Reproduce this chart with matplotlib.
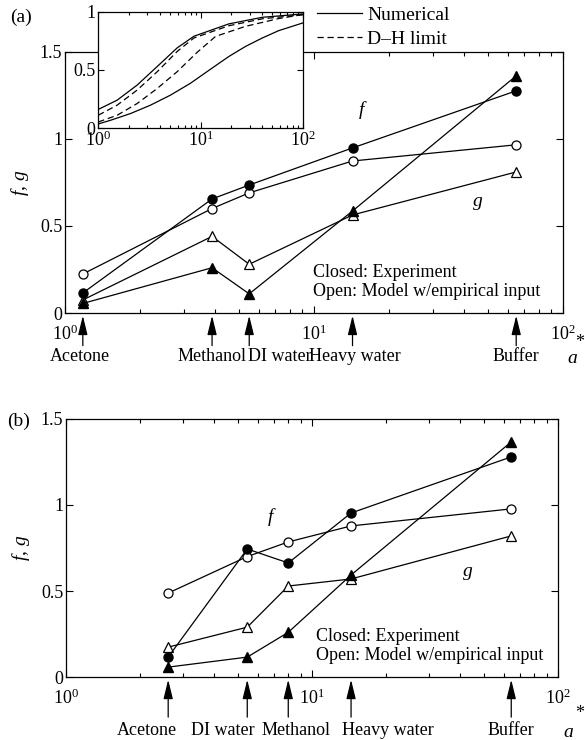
import numpy as np
import matplotlib
matplotlib.use("Agg")
import matplotlib.pyplot as plt
from matplotlib.lines import Line2D
from matplotlib.transforms import offset_copy
from matplotlib.ticker import LogLocator, NullFormatter, FixedLocator

plt.rcParams['font.family'] = ['Liberation Serif', 'DejaVu Serif']
plt.rcParams['mathtext.fontset'] = 'custom'
plt.rcParams['mathtext.rm'] = 'Liberation Serif'
plt.rcParams['mathtext.it'] = 'Liberation Serif:italic'
plt.rcParams['font.size'] = 13

# --- panel (a) data ---
names_a = ['Acetone', 'Methanol', 'DI water', 'Heavy water', 'Buffer']
astar_a = [1.18, 3.9, 5.5, 14.3, 65.0]
f_exp_a = [0.115, 0.655, 0.735, 0.948, 1.276]
f_mod_a = [0.224, 0.600, 0.690, 0.873, 0.966]
g_exp_a = [0.055, 0.260, 0.110, 0.586, 1.362]
g_mod_a = [0.075, 0.440, 0.280, 0.563, 0.810]

# --- panel (b) data ---
names_b = ['Acetone', 'DI water', 'Methanol', 'Heavy water', 'Buffer']
astar_b = [2.6, 5.45, 8.0, 14.4, 64.5]
f_exp_b = [0.116, 0.744, 0.663, 0.953, 1.279]
f_mod_b = [0.488, 0.700, 0.785, 0.878, 0.977]
g_exp_b = [0.058, 0.116, 0.260, 0.593, 1.366]
g_mod_b = [0.174, 0.290, 0.529, 0.570, 0.820]

# --- inset curves ---
num_hi_x = [1.0, 1.53, 2.4, 3.77, 5.9, 8.6, 18.8, 40.0, 100.0]
num_hi_y = [0.160, 0.240, 0.370, 0.530, 0.690, 0.790, 0.896, 0.953, 0.982]
dh_hi_x = [1.0, 1.53, 2.4, 3.77, 5.9, 8.6, 18.8, 40.0, 100.0]
dh_hi_y = [0.110, 0.197, 0.327, 0.485, 0.659, 0.775, 0.880, 0.940, 0.975]
dh_lo_x = [1.0, 1.53, 2.4, 3.77, 5.9, 9.2, 14.0, 27.4, 57.8, 100.0]
dh_lo_y = [0.052, 0.110, 0.211, 0.341, 0.485, 0.650, 0.789, 0.875, 0.942, 0.977]
num_lo_x = [1.0, 1.32, 2.07, 3.24, 5.07, 7.94, 12.9, 18.8, 27.4, 40.0, 57.8, 100.0]
num_lo_y = [0.035, 0.067, 0.125, 0.197, 0.283, 0.385, 0.515, 0.615, 0.702, 0.775, 0.838, 0.905]

# horizontal nudges (pixels) of the solvent names relative to their arrows
label_dx_a = [-3, 0, 31, 2, 0]
label_dx_b = [-21, -24, 8, 37, 0]


def style_axes(ax, yticks):
    ax.set_xscale('log')
    ax.set_xlim(1, 100)
    ax.xaxis.set_major_locator(FixedLocator([1, 10, 100]))
    ax.xaxis.set_minor_locator(LogLocator(base=10, subs=np.arange(2, 10)))
    ax.xaxis.set_minor_formatter(NullFormatter())
    ax.set_xticklabels([r'$10^{0}$', r'$10^{1}$', r'$10^{2}$'])
    ax.set_yticks(yticks)
    ax.tick_params(which='both', direction='in', top=True, right=True,
                   width=0.8, labelsize=13)
    ax.tick_params(which='major', length=5)
    ax.tick_params(which='minor', length=3)
    for sp in ax.spines.values():
        sp.set_linewidth(0.9)


def draw_panel(ax, names, astar, f_exp, f_mod, g_exp, g_mod, label_dx,
               arrow_tail, label_y):
    lw = 0.9
    ms = 6.5
    ax.plot(astar, f_mod, '-o', color='k', lw=lw, ms=ms, mfc='white', mec='k', mew=0.9)
    ax.plot(astar, g_mod, '-^', color='k', lw=lw, ms=ms, mfc='white', mec='k', mew=0.9)
    ax.plot(astar, f_exp, '-o', color='k', lw=lw, ms=ms, mfc='k', mec='k')
    ax.plot(astar, g_exp, '-^', color='k', lw=lw, ms=ms, mfc='k', mec='k')
    ax.set_ylim(0, 1.5)
    style_axes(ax, [0, 0.5, 1, 1.5])
    ax.set_yticklabels(['0', '0.5', '1', '1.5'])
    ax.tick_params(axis='x', which='major', pad=8)
    ax.tick_params(axis='y', pad=2)
    ax.set_ylabel(r'$f$, $g$', fontsize=14, labelpad=6)
    trans = ax.get_xaxis_transform()
    for name, xv, dx in zip(names, astar, label_dx):
        ax.annotate('', xy=(xv, -0.01), xycoords=trans,
                    xytext=(xv, arrow_tail), textcoords=trans,
                    arrowprops=dict(arrowstyle='-|>,head_length=0.9,head_width=0.22',
                                    color='k', lw=0.9, shrinkA=0, shrinkB=0),
                    annotation_clip=False)
        t = offset_copy(trans, fig=ax.figure, x=dx, y=0, units='dots')
        ax.text(xv, label_y, name, transform=t, ha='center', va='center',
                fontsize=13, clip_on=False)


fig = plt.figure(figsize=(5.85, 7.4), dpi=100)

# panel (a)
ax_a = fig.add_axes([0.111, 0.577, 0.851, 0.353])
draw_panel(ax_a, names_a, astar_a, f_exp_a, f_mod_a, g_exp_a, g_mod_a, label_dx_a,
           -0.125, -0.165)
ax_a.text(0.498, 0.119, 'Closed: Experiment\nOpen: Model w/empirical input',
          transform=ax_a.transAxes, fontsize=13, ha='left', va='center',
          linespacing=1.15)
ax_a.text(0.598, 0.778, r'$f$', transform=ax_a.transAxes, fontsize=14,
          ha='center', va='center')
ax_a.text(0.829, 0.421, r'$g$', transform=ax_a.transAxes, fontsize=14,
          ha='center', va='center')
fig.text(0.017, 0.976, '(a)', fontsize=14, va='center')
fig.text(0.978, 0.516, r'$a$', fontsize=14, ha='center', va='center')
fig.text(0.990, 0.537, '*', fontsize=13, ha='center', va='center')

# inset
ax_in = fig.add_axes([0.168, 0.827, 0.350, 0.157])
ax_in.set_facecolor('white')
ax_in.plot(num_hi_x, num_hi_y, '-', color='k', lw=0.9)
ax_in.plot(num_lo_x, num_lo_y, '-', color='k', lw=0.9)
ax_in.plot(dh_hi_x, dh_hi_y, '--', color='k', lw=0.9, dashes=(5, 3))
ax_in.plot(dh_lo_x, dh_lo_y, '--', color='k', lw=0.9, dashes=(5, 3))
ax_in.set_ylim(0, 1)
style_axes(ax_in, [0, 0.5, 1])
ax_in.set_yticklabels(['0', '0.5', '1'])
ax_in.tick_params(which='major', length=4, pad=2)
ax_in.tick_params(which='minor', length=2)

handles = [Line2D([], [], color='k', lw=0.9, ls='-'),
           Line2D([], [], color='k', lw=0.9, ls='--', dashes=(5, 3))]
fig.legend(handles, ['Numerical', 'D\u2013H limit'], loc='upper left',
           bbox_to_anchor=(0.535, 0.997), frameon=False, fontsize=14,
           handlelength=2.3, handletextpad=0.3, labelspacing=0.35,
           borderaxespad=0.0, borderpad=0.2)

# panel (b)
ax_b = fig.add_axes([0.113, 0.085, 0.841, 0.349])
draw_panel(ax_b, names_b, astar_b, f_exp_b, f_mod_b, g_exp_b, g_mod_b, label_dx_b,
           -0.155, -0.205)
ax_b.text(0.508, 0.12, 'Closed: Experiment\nOpen: Model w/empirical input',
          transform=ax_b.transAxes, fontsize=13, ha='left', va='center',
          linespacing=1.15)
ax_b.text(0.419, 0.62, r'$f$', transform=ax_b.transAxes, fontsize=14,
          ha='center', va='center')
ax_b.text(0.817, 0.403, r'$g$', transform=ax_b.transAxes, fontsize=14,
          ha='center', va='center')
fig.text(0.012, 0.430, '(b)', fontsize=14, va='center')
fig.text(0.971, 0.010, r'$a$', fontsize=14, ha='center', va='center')
fig.text(0.990, 0.036, '*', fontsize=13, ha='center', va='center')

fig.savefig('out.png', dpi=100)
